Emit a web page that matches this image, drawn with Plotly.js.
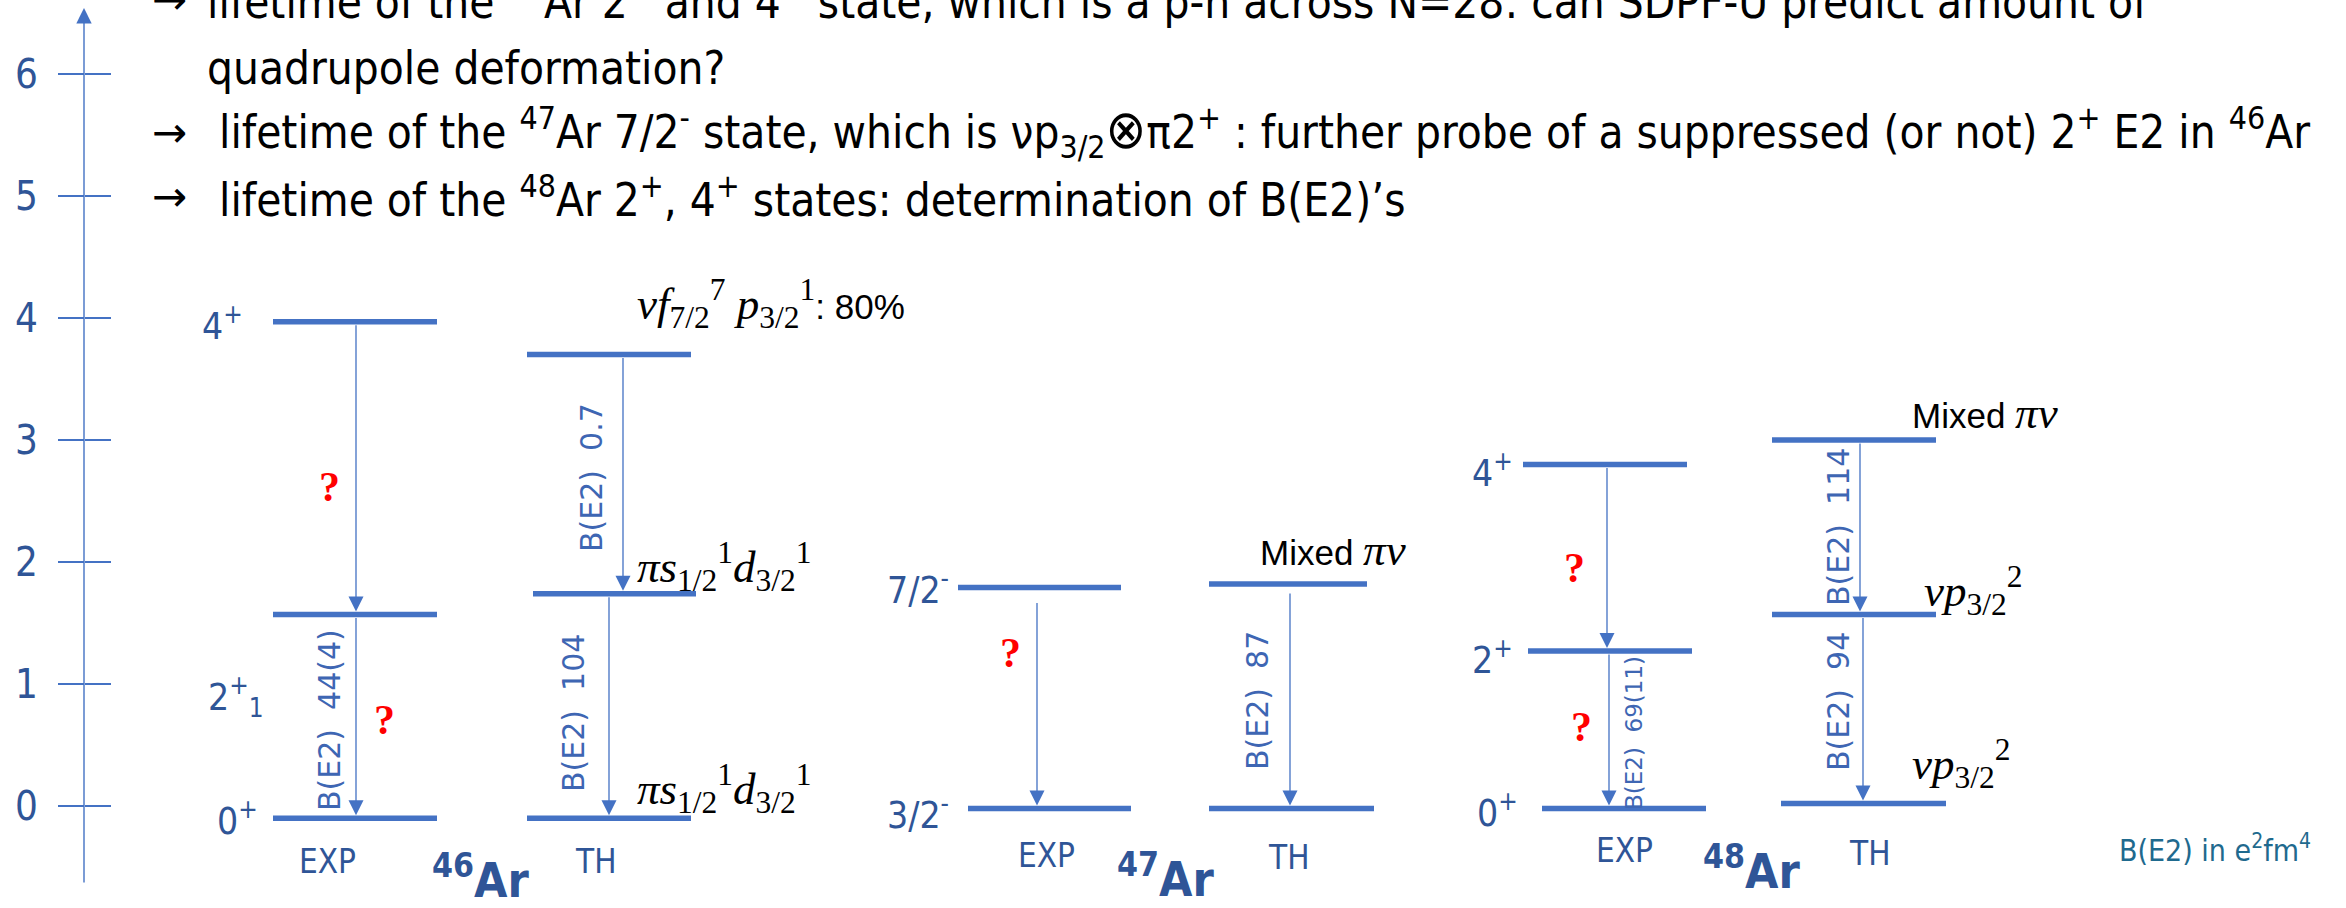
<!DOCTYPE html>
<html><head><meta charset="utf-8">
<script src="https://cdn.plot.ly/plotly-3.0.1.min.js"></script>
<style>html,body{margin:0;padding:0;background:#fff;overflow:hidden}#chart{width:2346px;height:908px}</style>
</head><body><div id="chart"></div>
<script>
// ================= DATA =================
const tickVals = [0, 1, 2, 3, 4, 5, 6];
const nucleusMass = ['46', '47', '48'];
const columnNames = ['EXP', 'TH'];

// level energies (MeV)
const ar46Exp = [-0.10, 1.57, 3.97];
const ar46Th  = [-0.10, 1.74, 3.70];
const ar47Exp = [-0.02, 1.79];
const ar47Th  = [-0.02, 1.82];
const ar48Exp = [-0.02, 1.27, 2.80];
const ar48Th  = [0.02, 1.57, 3.00];

// spin-parity labels of the EXP levels
const ar46Spins = ['0<sup>+</sup>', '2<sup>+</sup><sub>1</sub>', '4<sup>+</sup>'];
const ar47Spins = ['3/2<sup>-</sup>', '7/2<sup>-</sup>'];
const ar48Spins = ['0<sup>+</sup>', '2<sup>+</sup>', '4<sup>+</sup>'];

// B(E2) (e2fm4) of transition level[i+1] -> level[i]; null = not labelled
const ar46ExpBE2 = ['44(4)', null];
const ar46ThBE2  = ['104', '0.7'];
const ar47ExpBE2 = [null];
const ar47ThBE2  = ['87'];
const ar48ExpBE2 = ['69(11)', null];
const ar48ThBE2  = ['94', '114'];

// configurations of TH levels
const SANS_SPAN = '<span style="font-family:\'Liberation Sans Narrow\',sans-serif;font-size:35px">';
const ar46ThConfig = [
  '<i>πs</i><sub>1/2</sub><sup>1</sup><i>d</i><sub>3/2</sub><sup>1</sup>',
  '<i>πs</i><sub>1/2</sub><sup>1</sup><i>d</i><sub>3/2</sub><sup>1</sup>',
  '<i>νf</i><sub>7/2</sub><sup>7</sup> <i>p</i><sub>3/2</sub><sup>1</sup>' + SANS_SPAN + ': 80%</span>'
];
const ar47ThConfig = [null, SANS_SPAN + 'Mixed </span><i>πν</i>'];
const ar48ThConfig = [
  '<i>νp</i><sub>3/2</sub><sup>2</sup>',
  '<i>νp</i><sub>3/2</sub><sup>2</sup>',
  SANS_SPAN + 'Mixed </span><i>πν</i>'
];

const bulletLines = [
  'lifetime of the <sup>46</sup>Ar 2<sup>+</sup> and 4<sup>+</sup> state, which is a p-h across N=28: can SDPF-U predict amount of',
  'quadrupole deformation?',
  'lifetime of the <sup>47</sup>Ar 7/2<sup>-</sup> state, which is νp<sub>3/2</sub><span style="font-size:54px">⊗</span>π2<sup>+</sup> : further probe of a suppressed (or not) 2<sup>+</sup> E2 in <sup>46</sup>Ar',
  'lifetime of the <sup>48</sup>Ar 2<sup>+</sup>, 4<sup>+</sup> states: determination of B(E2)’s'
];
const unitNote = 'B(E2) in e<sup>2</sup>fm<sup>4</sup>';

// ================= LAYOUT / GEOMETRY (pixels) =================
const W = 2346, H = 908;
const Y0PX = 806, PXPERUNIT = 122;         // y-axis scale of the picture
const yv = p => (Y0PX - p) / PXPERUNIT;    // pixel row -> axis value
const yPx = v => Y0PX - v * PXPERUNIT;
const px = x => x / W, py = y => 1 - y / H;

const BLUE = '#4472C4', DARK = '#2F5597', TXTBLUE = '#3E66B3';
const COND = '"Liberation Sans Narrow", "Arial Narrow", "DejaVu Sans Condensed", sans-serif';
const WIDE = '"DejaVu Sans", Verdana, sans-serif';
const SERIF = '"Liberation Serif", "DejaVu Serif", serif';
const GAP = '\u00a0\u00a0';

const columns = [
  {E: ar46Exp, spans: [[273,437],[273,437],[273,437]], arrowX: [356,356], startOff:[0,0],
   spins: ar46Spins, spinX: [237,236,223], spinDy: [0,82,2],
   be2: ar46ExpBE2, be2Pos: [[329,720],null], be2Size: 30,
   unknown: [[384,720],[329,487]]},
  {E: ar46Th, spans: [[527,691],[533,696],[527,691]], arrowX: [609,623], startOff:[0,0],
   be2: ar46ThBE2, be2Pos: [[573,713],[591,478]], be2Size: 30,
   conf: ar46ThConfig, confPos: [[635,788],[635,566],[635,303]]},
  {E: ar47Exp, spans: [[968,1131],[958,1121]], arrowX: [1037], startOff:[12],
   spins: ar47Spins, spinX: [918,918], spinDy: [4,0],
   be2: ar47ExpBE2, be2Pos: [null], be2Size: 30,
   unknown: [[1010,653]]},
  {E: ar47Th, spans: [[1209,1374],[1209,1367]], arrowX: [1290], startOff:[6],
   be2: ar47ThBE2, be2Pos: [[1257,700]], be2Size: 30,
   conf: ar47ThConfig, confPos: [null,[1258,550]]},
  {E: ar48Exp, spans: [[1542,1706],[1528,1692],[1523,1687]], arrowX: [1609,1607], startOff:[0,0],
   spins: ar48Spins, spinX: [1497,1492,1492], spinDy: [2,6,6],
   be2: ar48ExpBE2, be2Pos: [[1634,733],null], be2Size: 23,
   unknown: [[1581,727],[1575,568]]},
  {E: ar48Th, spans: [[1781,1946],[1772,1936],[1772,1936]], arrowX: [1863,1860], startOff:[0,0],
   be2: ar48ThBE2, be2Pos: [[1838,702],[1838,527]], be2Size: 30,
   conf: ar48ThConfig, confPos: [[1910,763],[1922,590],[1910,413]]}
];
const colLabelPos = [[327,861],[595,861],[1046,855],[1288,857],[1625,850],[1869,853]];
const nucleusPos = [[480,877],[1165,876],[1751,868]];

// ================= BUILD =================
const traces = [];
const ann = [];
const A = o => Object.assign({xref: 'paper', yref: 'paper', xanchor: 'center', yanchor: 'middle',
                              showarrow: false}, o);

// level lines
columns.forEach(c => {
  const xs = [], ys = [];
  c.E.forEach((e, i) => { xs.push(c.spans[i][0], c.spans[i][1], null); ys.push(e, e, null); });
  traces.push({x: xs, y: ys, mode: 'lines', line: {color: BLUE, width: 5.5},
               hoverinfo: 'skip', showlegend: false});
});
// dummy trace so the mirrored tick axis is drawn
traces.push({x: [84], y: [0], yaxis: 'y2', mode: 'markers', marker: {opacity: 0},
             hoverinfo: 'skip', showlegend: false});

// y axis line with arrow
ann.push({x: 84, y: yv(8), ax: 84, ay: yv(884), xref: 'x', yref: 'y', axref: 'x', ayref: 'y',
  showarrow: true, arrowhead: 2, arrowsize: 2.2, arrowwidth: 1.4, arrowcolor: BLUE, text: ''});

columns.forEach(c => {
  for (let i = 0; i < c.E.length - 1; i++) {
    ann.push({x: c.arrowX[i], y: c.E[i], ax: c.arrowX[i], ay: c.E[i + 1],
      xref: 'x', yref: 'y', axref: 'x', ayref: 'y', showarrow: true, arrowhead: 2,
      arrowsize: 2.3, arrowwidth: 1.3, arrowcolor: BLUE, standoff: 3,
      startstandoff: 2 + (c.startOff[i] || 0), text: ''});
    if (c.be2[i] && c.be2Pos[i]) {
      ann.push(A({x: px(c.be2Pos[i][0]), y: py(c.be2Pos[i][1]),
        text: 'B(E2)' + GAP + c.be2[i], textangle: -90,
        font: {family: WIDE, size: c.be2Size, color: TXTBLUE}}));
    }
  }
  if (c.spins) c.spins.forEach((s, i) => {
    ann.push(A({x: px(c.spinX[i]), y: py(yPx(c.E[i]) + c.spinDy[i]), text: s,
      font: {family: COND, size: 37, color: DARK}}));
  });
  if (c.unknown) c.unknown.forEach(p => {
    ann.push(A({x: px(p[0]), y: py(p[1]), text: '<b>?</b>',
      font: {family: SERIF, size: 42, color: '#FF0000'}}));
  });
  if (c.conf) c.conf.forEach((t, i) => {
    if (!t || !c.confPos[i]) return;
    ann.push(A({x: px(c.confPos[i][0]), y: py(c.confPos[i][1]), xanchor: 'left', text: t,
      font: {family: SERIF, size: 45, color: '#000'}}));
  });
});

colLabelPos.forEach((p, i) => {
  ann.push(A({x: px(p[0]), y: py(p[1]), text: columnNames[i % 2],
    font: {family: COND, size: 33, color: DARK}}));
});
nucleusMass.forEach((m, i) => {
  ann.push(A({x: px(nucleusPos[i][0]), y: py(nucleusPos[i][1]),
    text: '<b><sup>' + m + '</sup>Ar</b>', font: {family: COND, size: 48, color: DARK}}));
});
ann.push(A({x: px(2215), y: py(848), text: unitNote,
  font: {family: COND, size: 30, color: '#1F6A8E'}}));

const lineY = [-1, 69, 132, 197];
const lineX = [205, 205, 217, 217];
const hasArrow = [true, false, true, true];
bulletLines.forEach((t, i) => {
  if (hasArrow[i]) ann.push(A({x: px(150), y: py(lineY[i]), xanchor: 'left', text: '→',
    font: {family: WIDE, size: 42, color: '#000'}}));
  ann.push(A({x: px(lineX[i]), y: py(lineY[i]), xanchor: 'left', text: t,
    font: {family: COND, size: 45.5, color: '#000'}}));
});

const yRange = [yv(H), yv(0)];
const layout = {
  width: W, height: H, margin: {l: 0, r: 0, t: 0, b: 0},
  paper_bgcolor: '#fff', plot_bgcolor: '#fff', showlegend: false,
  xaxis: {range: [0, W], visible: false, fixedrange: true},
  yaxis: {range: yRange, tickvals: tickVals, anchor: 'free', position: px(84), side: 'left',
    ticks: 'outside', ticklen: 26, tickwidth: 1.3, tickcolor: BLUE, showline: false,
    showgrid: false, zeroline: false, ticklabelstandoff: 12,
    tickfont: {family: COND, size: 40, color: DARK}},
  yaxis2: {range: yRange, tickvals: tickVals, overlaying: 'y', anchor: 'free', position: px(84),
    side: 'right', ticks: 'outside', ticklen: 26, tickwidth: 1.3, tickcolor: BLUE,
    showline: false, showgrid: false, zeroline: false, showticklabels: false},
  annotations: ann
};
Plotly.newPlot('chart', traces, layout, {displayModeBar: false, staticPlot: true});
</script></body></html>
